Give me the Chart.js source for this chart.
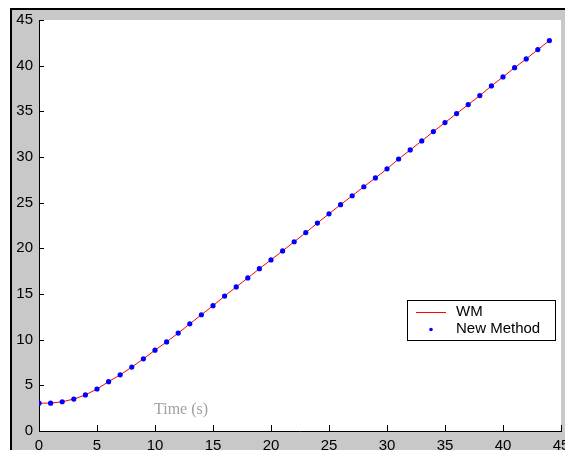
<!DOCTYPE html>
<html>
<head>
<meta charset="utf-8">
<script src="https://cdn.jsdelivr.net/npm/chart.js@4/dist/chart.umd.min.js"></script>
<style>
  html, body { margin: 0; padding: 0; background: #ffffff; }
  #wrap { position: relative; width: 565px; height: 450px; }
</style>
</head>
<body>
<div id="wrap"><canvas id="c" width="565" height="450"></canvas></div>
<script>
// ---- data ----
const timeValues = [0,1,2,3,4,5,6,7,8,9,10,11,12,13,14,15,16,17,18,19,20,21,22,23,24,25,26,27,28,29,30,31,32,33,34,35,36,37,38,39,40,41,42,43,44];
const newMethodValues = [3.05,3.05,3.2,3.5,3.95,4.6,5.4,6.15,7.0,7.9,8.85,9.75,10.72,11.73,12.73,13.72,14.77,15.77,16.76,17.77,18.73,19.72,20.72,21.72,22.77,23.78,24.78,25.76,26.74,27.71,28.7,29.78,30.77,31.76,32.78,33.77,34.75,35.74,36.72,37.78,38.77,39.78,40.74,41.76,42.75];
const wmValues = [3.05,3.05,3.2,3.5,3.95,4.6,5.4,6.15,7.0,7.9,8.85,9.75,10.72,11.73,12.73,13.72,14.77,15.77,16.76,17.77,18.73,19.72,20.72,21.72,22.77,23.78,24.78,25.76,26.74,27.71,28.7,29.78,30.77,31.76,32.78,33.77,34.75,35.74,36.72,37.78,38.77,39.78,40.74,41.76,42.75];
const seriesNames = ['WM', 'New Method'];
const xTitle = 'Time (s)';
const axisMin = 0, axisMax = 45, axisStep = 5;

const FONT = '"Liberation Sans", Arial, sans-serif';

const figurePlugin = {
  id: 'figure',
  beforeDraw(chart) {
    const ctx = chart.ctx, W = chart.width, H = chart.height, a = chart.chartArea;
    ctx.save();
    ctx.fillStyle = '#ffffff';
    ctx.fillRect(0, 0, W, H);
    ctx.fillStyle = '#c8c8c8';
    ctx.fillRect(10, 8, W - 10, H - 8);
    ctx.fillStyle = '#000000';
    ctx.fillRect(10, 8, W - 10, 2);
    ctx.fillRect(10, 8, 2, H - 8);
    ctx.fillStyle = '#ffffff';
    ctx.fillRect(a.left, a.top, a.right - a.left, a.bottom - a.top);
    ctx.restore();
  },
  afterDatasetsDraw(chart) {
    const ctx = chart.ctx, a = chart.chartArea;
    const xs = chart.scales.x, ys = chart.scales.y;
    ctx.save();
    ctx.strokeStyle = '#000000';
    ctx.lineWidth = 1;
    ctx.beginPath();
    ys.ticks.forEach(t => {
      const p = Math.round(ys.getPixelForValue(t.value)) + 0.5;
      ctx.moveTo(a.left, p); ctx.lineTo(a.left + 5, p);
    });
    xs.ticks.forEach(t => {
      const p = Math.round(xs.getPixelForValue(t.value)) + 0.5;
      ctx.moveTo(p, a.bottom); ctx.lineTo(p, a.bottom - 6);
    });
    ctx.stroke();

    // x title drawn inside plot as in reference
    ctx.fillStyle = '#a0a0a0';
    ctx.font = '16px "Liberation Serif", "Times New Roman", serif';
    ctx.textBaseline = 'alphabetic';
    ctx.textAlign = 'left';
    ctx.fillText(xTitle, 154, 414);

    // legend box
    const bx = 407.5, by = 300.5, bw = 148, bh = 40;
    ctx.fillStyle = '#ffffff';
    ctx.fillRect(bx, by, bw, bh);
    ctx.strokeStyle = '#000000';
    ctx.strokeRect(bx, by, bw, bh);
    const ds = chart.data.datasets;
    ctx.font = '15px ' + FONT;
    ctx.textBaseline = 'middle';
    ctx.strokeStyle = ds[0].borderColor;
    ctx.beginPath(); ctx.moveTo(416, 312.5); ctx.lineTo(446, 312.5); ctx.stroke();
    ctx.fillStyle = '#000000';
    ctx.fillText(ds[0].label, 456, 312);
    ctx.fillStyle = ds[1].backgroundColor;
    ctx.beginPath(); ctx.arc(431, 329.5, 1.8, 0, Math.PI * 2); ctx.fill();
    ctx.fillStyle = '#000000';
    ctx.fillText(ds[1].label, 456, 329);
    ctx.restore();
  }
};

new Chart(document.getElementById('c'), {
  type: 'scatter',
  data: {
    datasets: [
      {
        label: seriesNames[0],
        type: 'line',
        data: timeValues.map((t, i) => ({ x: t, y: wmValues[i] })),
        borderColor: '#ff0000',
        backgroundColor: '#ff0000',
        borderWidth: 1,
        pointRadius: 0,
        tension: 0,
        order: 2
      },
      {
        label: seriesNames[1],
        data: timeValues.map((t, i) => ({ x: t, y: newMethodValues[i] })),
        showLine: false,
        backgroundColor: '#0000ff',
        borderColor: '#0000ff',
        borderWidth: 0,
        pointRadius: 2.6,
        pointHoverRadius: 2.6,
        order: 1
      }
    ]
  },
  options: {
    responsive: false,
    animation: false,
    events: [],
    layout: { padding: { left: 0, top: 20, right: 4, bottom: 0 } },
    plugins: { legend: { display: false }, tooltip: { enabled: false } },
    scales: {
      x: {
        type: 'linear', min: axisMin, max: axisMax,
        ticks: { stepSize: axisStep, color: '#000000', font: { family: FONT, size: 15 }, padding: 6, maxRotation: 0 },
        grid: { display: true, drawOnChartArea: false, drawTicks: false },
        border: { display: true, color: '#000000', width: 1 },
        afterFit(s) { s.height = 19; s.paddingLeft = 0; s.paddingRight = 0; }
      },
      y: {
        type: 'linear', min: axisMin, max: axisMax,
        ticks: { stepSize: axisStep, color: '#000000', font: { family: FONT, size: 15 }, padding: 6 },
        grid: { display: true, drawOnChartArea: false, drawTicks: false },
        border: { display: true, color: '#000000', width: 1 },
        afterFit(s) { s.width = 39; s.paddingTop = 0; s.paddingBottom = 0; }
      }
    }
  },
  plugins: [figurePlugin]
});
</script>
</body>
</html>
